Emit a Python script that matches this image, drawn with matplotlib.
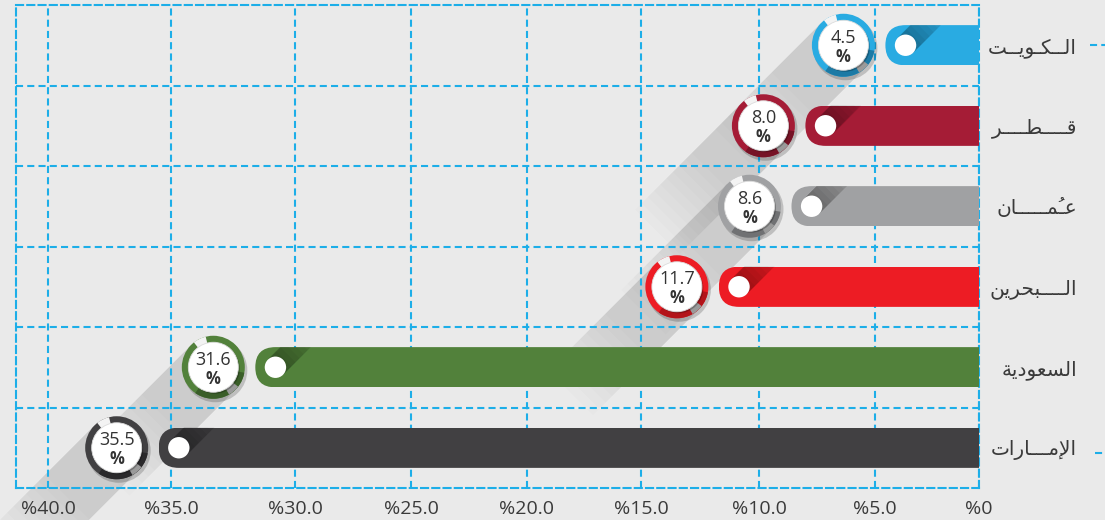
import numpy as np
import matplotlib
matplotlib.use("Agg")
import matplotlib.pyplot as plt
import matplotlib.transforms as mtransforms
from matplotlib.patches import Circle, Wedge, Polygon, FancyBboxPatch
from matplotlib.lines import Line2D
from matplotlib.ticker import NullLocator

plt.rcParams['font.family'] = ['Open Sans', 'DejaVu Sans']

# ---------------- data ----------------
countries = ["الــكـويــت", "قــــطــــر", "عُمـــــان", "الــــبحرين", "السعودية", "الإمـــارات"]
values = [4.5, 8.0, 8.6, 11.7, 31.6, 35.5]
value_labels = ["4.5", "8.0", "8.6", "11.7", "31.6", "35.5"]
tick_values = [0, 5, 10, 15, 20, 25, 30, 35, 40]
tick_labels = ["%0", "%5.0", "%10.0", "%15.0", "%20.0", "%25.0", "%30.0", "%35.0", "%40.0"]
bar_colors = ["#29abe2", "#a51c36", "#a0a1a3", "#ed1c24", "#52813b", "#414042"]
ring_dark = ["#1c7aa5", "#761326", "#707173", "#b3141a", "#3a5e29", "#2a292b"]

# the printed axis is not evenly spaced: distance (px) of each tick from the 0 line
axis_break_vals = [0, 5, 10, 15, 20, 25, 30, 35, 40, 60]
axis_break_dist = [0, 104, 220, 338, 452, 568, 684, 808, 931, 1423]

# ---------------- arabic shaping (matplotlib has no complex text layout) ----------------
_AR = {
    'ء': ('\uFE80',),
    'آ': ('\uFE81', '\uFE82'), 'أ': ('\uFE83', '\uFE84'), 'ؤ': ('\uFE85', '\uFE86'),
    'إ': ('\uFE87', '\uFE88'), 'ئ': ('\uFE89', '\uFE8A', '\uFE8B', '\uFE8C'),
    'ا': ('\uFE8D', '\uFE8E'), 'ب': ('\uFE8F', '\uFE90', '\uFE91', '\uFE92'),
    'ة': ('\uFE93', '\uFE94'), 'ت': ('\uFE95', '\uFE96', '\uFE97', '\uFE98'),
    'ث': ('\uFE99', '\uFE9A', '\uFE9B', '\uFE9C'), 'ج': ('\uFE9D', '\uFE9E', '\uFE9F', '\uFEA0'),
    'ح': ('\uFEA1', '\uFEA2', '\uFEA3', '\uFEA4'), 'خ': ('\uFEA5', '\uFEA6', '\uFEA7', '\uFEA8'),
    'د': ('\uFEA9', '\uFEAA'), 'ذ': ('\uFEAB', '\uFEAC'), 'ر': ('\uFEAD', '\uFEAE'),
    'ز': ('\uFEAF', '\uFEB0'), 'س': ('\uFEB1', '\uFEB2', '\uFEB3', '\uFEB4'),
    'ش': ('\uFEB5', '\uFEB6', '\uFEB7', '\uFEB8'), 'ص': ('\uFEB9', '\uFEBA', '\uFEBB', '\uFEBC'),
    'ض': ('\uFEBD', '\uFEBE', '\uFEBF', '\uFEC0'), 'ط': ('\uFEC1', '\uFEC2', '\uFEC3', '\uFEC4'),
    'ظ': ('\uFEC5', '\uFEC6', '\uFEC7', '\uFEC8'), 'ع': ('\uFEC9', '\uFECA', '\uFECB', '\uFECC'),
    'غ': ('\uFECD', '\uFECE', '\uFECF', '\uFED0'), 'ف': ('\uFED1', '\uFED2', '\uFED3', '\uFED4'),
    'ق': ('\uFED5', '\uFED6', '\uFED7', '\uFED8'), 'ك': ('\uFED9', '\uFEDA', '\uFEDB', '\uFEDC'),
    'ل': ('\uFEDD', '\uFEDE', '\uFEDF', '\uFEE0'), 'م': ('\uFEE1', '\uFEE2', '\uFEE3', '\uFEE4'),
    'ن': ('\uFEE5', '\uFEE6', '\uFEE7', '\uFEE8'), 'ه': ('\uFEE9', '\uFEEA', '\uFEEB', '\uFEEC'),
    'و': ('\uFEED', '\uFEEE'), 'ى': ('\uFEEF', '\uFEF0'),
    'ي': ('\uFEF1', '\uFEF2', '\uFEF3', '\uFEF4'),
    'ـ': ('\u0640',) * 4,
}
_LAMALEF = {'آ': ('\uFEF5', '\uFEF6'), 'أ': ('\uFEF7', '\uFEF8'),
            'إ': ('\uFEF9', '\uFEFA'), 'ا': ('\uFEFB', '\uFEFC')}
# harakat written on a kashida (medial presentation forms)
_MARK_MEDIAL = {'\u064E': '\uFE77', '\u064F': '\uFE79', '\u0650': '\uFE7B',
                '\u0651': '\uFE7D', '\u0652': '\uFE7F'}


def _is_mark(c):
    return '\u064B' <= c <= '\u0652' or c == '\u0670'


def shape_arabic(s):
    toks = []
    i = 0
    while i < len(s):
        c = s[i]
        if _is_mark(c):
            if toks:
                toks[-1][1] += c
            i += 1
            continue
        if c == 'ل':
            j, marks = i + 1, ''
            while j < len(s) and _is_mark(s[j]):
                marks += s[j]
                j += 1
            if j < len(s) and s[j] in _LAMALEF:
                toks.append([_LAMALEF[s[j]], marks])
                i = j + 1
                continue
        toks.append([_AR.get(c, (c,)), ''])
        i += 1
    out = []
    n = len(toks)
    for k, (forms, marks) in enumerate(toks):
        joins = len(forms) >= 2
        prev = k > 0 and len(toks[k - 1][0]) == 4 and joins
        nxt = len(forms) == 4 and k < n - 1 and len(toks[k + 1][0]) >= 2
        if prev and nxt:
            g = forms[3]
        elif prev:
            g = forms[1]
        elif nxt:
            g = forms[2]
        else:
            g = forms[0]
        if marks and nxt and all(m in _MARK_MEDIAL for m in marks):
            out.append(''.join(_MARK_MEDIAL[m] for m in marks) + g)
        else:
            out.append(g + marks)
    return ''.join(reversed(out))


# ---------------- figure ----------------
W, H = 1105, 520
fig = plt.figure(figsize=(W / 100, H / 100), dpi=100)
bg = '#eaeaea'
fig.patch.set_facecolor(bg)
ax = fig.add_axes([16 / W, 1 - 488 / H, 963 / W, 483 / H])
ax.set_facecolor(bg)


def _fwd(x):
    return np.interp(x, axis_break_vals, axis_break_dist)


def _inv(d):
    return np.interp(d, axis_break_dist, axis_break_vals)


ax.set_xscale('function', functions=(_fwd, _inv))
ax.set_xlim(41.3, 0)
ax.set_ylim(5.5, -0.5)

blue = '#1daee8'
dash = (0, (3.4, 2.0))
ax.set_axisbelow(True)
ax.set_xticks(tick_values, tick_labels)
ax.xaxis.set_minor_locator(NullLocator())
ax.set_yticks(range(len(countries)))
ax.set_yticklabels([shape_arabic(c) for c in countries], ha='right',
                   family=['DejaVu Sans'], fontsize=14.5, color='#3a3a3a')
ax.set_yticks(np.arange(0.5, len(countries) - 1, 1), minor=True)
ax.yaxis.tick_right()
ax.grid(True, axis='x', which='major', color=blue, lw=1.5, ls=dash)
ax.grid(True, axis='y', which='minor', color=blue, lw=1.5, ls=dash)
for sp in ax.spines.values():
    sp.set_color(blue)
    sp.set_linewidth(1.5)
    sp.set_linestyle(dash)
ax.tick_params(axis='x', length=0, pad=8.5, labelsize=14, labelcolor='#3a3a3a')
ax.tick_params(axis='y', which='both', length=0, pad=70.5)

PT = 72 / 100.0  # points per pixel


def pix(v, y, dx=0.0, dy=0.0):
    return mtransforms.Affine2D().translate(dx, dy) + \
        mtransforms.ScaledTranslation(v, y, ax.transData)


def band(t, cx, cy, ux, uy, half, length, color, alpha, z, clip=None, clip_on=True):
    px, py = -uy, ux
    pts = [(cx + px * half, cy + py * half),
           (cx - px * half, cy - py * half),
           (cx - px * half + ux * length, cy - py * half + uy * length),
           (cx + px * half + ux * length, cy + py * half + uy * length)]
    p = Polygon(pts, closed=True, transform=t, facecolor=color, edgecolor='none',
                alpha=alpha, zorder=z, clip_on=clip_on)
    ax.add_patch(p)
    if clip is not None:
        p.set_clip_path(clip)
    return p


bars = ax.barh(range(len(values)), values, height=0.5, color=bar_colors, zorder=3)

hh = 0.25 * 483 / 6.0      # half bar height in px
R_out, R_in = 31.5, 25.0
badge_dx = -42
r2 = np.sqrt(0.5)

for i, v in enumerate(values):
    t = pix(v, i)
    clip = FancyBboxPatch((0, -hh), 1400, 2 * hh,
                          boxstyle=f"round,pad=0,rounding_size={hh}", transform=t)
    bars[i].set_clip_path(clip)

    # inner diagonal shadow from the white dot (layered -> gradient)
    nl = 8
    for k in range(nl):
        band(t, hh, 0, r2, r2, 10.7, 12 + 40 * k / (nl - 1), 'black',
             0.33 / nl, 4, clip=clip)
    ax.add_patch(Circle((hh, 0), 10.7, transform=t, facecolor='white',
                        edgecolor='none', zorder=5))

    # badge
    tb = pix(v, i, badge_dx, 0)
    # long shadow (layered -> fades out)
    nl = 10
    for k in range(nl):
        band(tb, 0, 0, -r2, -r2, R_out, 70 + 80 * k / (nl - 1), 'black',
             0.13 / nl, 0.3, clip_on=False)
    ax.add_patch(Circle((2, -3), R_out + 0.5, transform=tb, facecolor='black',
                        alpha=0.18, edgecolor='none', zorder=5.5))
    ax.add_patch(Circle((0, 0), R_out, transform=tb, facecolor=bar_colors[i],
                        edgecolor='none', zorder=6))
    ax.add_patch(Wedge((0, 0), R_out, 235, 350, width=R_out - R_in + 1,
                       transform=tb, facecolor=ring_dark[i], edgecolor='none', zorder=6.1))
    ax.add_patch(Wedge((0, 0), R_out, 300, 322, width=R_out - R_in + 1,
                       transform=tb, facecolor='#9a9a9a', edgecolor='none', zorder=6.2))
    ax.add_patch(Wedge((0, 0), R_out, 104, 128, width=R_out - R_in + 1,
                       transform=tb, facecolor='#f3f3f3', edgecolor='none', zorder=6.2))
    ax.add_patch(Circle((1.5, -1.5), R_in, transform=tb, facecolor='black',
                        alpha=0.25, edgecolor='none', zorder=6.3))
    ax.add_patch(Circle((0, 0), R_in, transform=tb, facecolor='white',
                        edgecolor='#dcdcdc', lw=0.6, zorder=6.4))
    ax.annotate(value_labels[i], xy=(v, i), xytext=(badge_dx * PT, 2.5 * PT),
                textcoords='offset points', ha='center', va='baseline',
                fontsize=13, color='#333333', zorder=7)
    ax.annotate('%', xy=(v, i), xytext=(badge_dx * PT, -2.5 * PT),
                textcoords='offset points', ha='center', va='top',
                fontsize=12, fontweight='bold', color='#333333', zorder=7)

# small dashed leaders at the right margin
for y_px, x0 in [(H - 45, 1090), (H - 453, 1095)]:
    fig.add_artist(Line2D([x0, W], [y_px, y_px], transform=mtransforms.IdentityTransform(),
                          color=blue, lw=1.5, ls=dash))

fig.savefig('out.png', dpi=100, facecolor=bg)
